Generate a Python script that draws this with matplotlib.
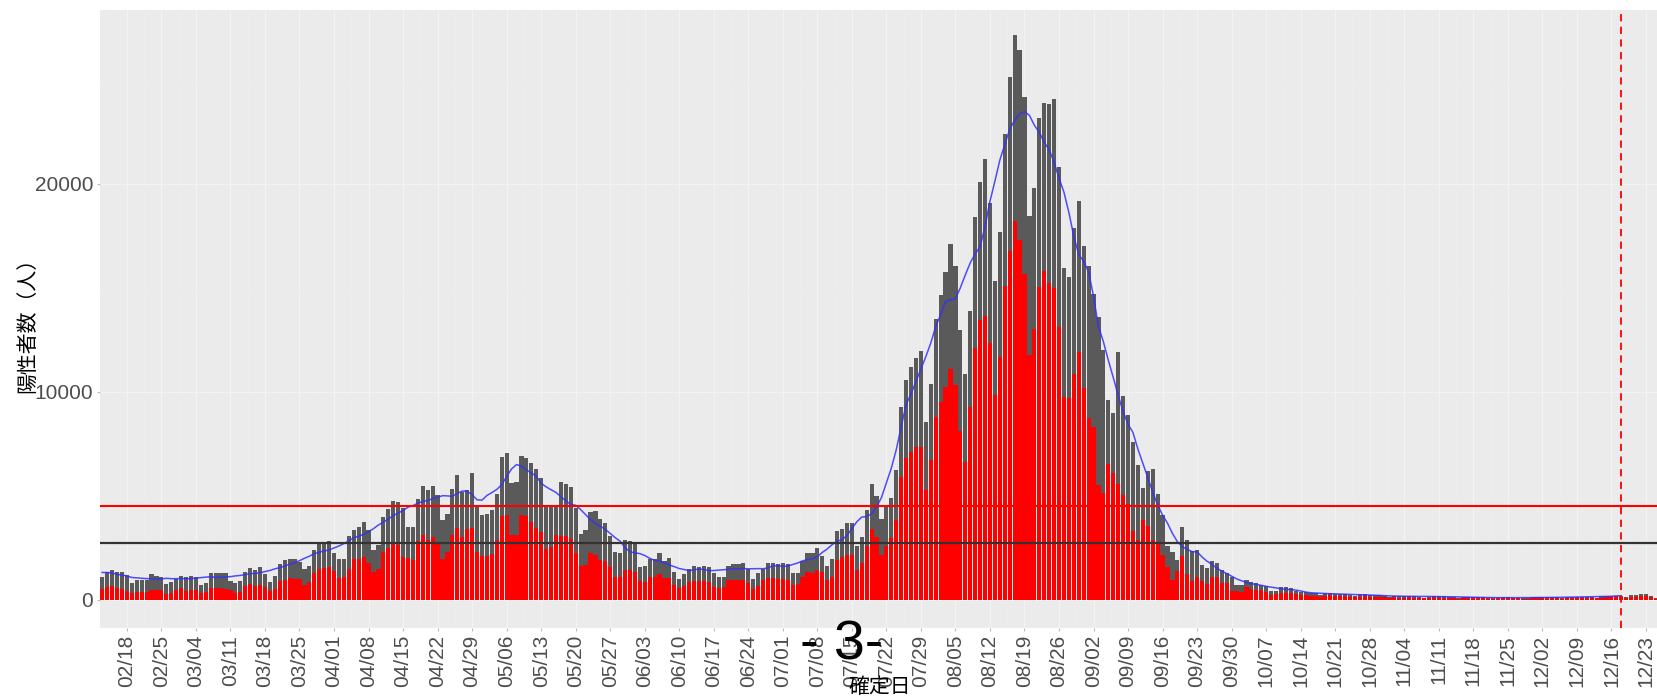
import numpy as np
import pandas as pd
import matplotlib
matplotlib.use('Agg')
import matplotlib.pyplot as plt

plt.rcParams['font.family'] = ['Liberation Sans', 'Noto Sans CJK JP', 'DejaVu Sans']

# 日別の陽性者数 (2021-02-13 ～ 2021-12-25)
start = '2021-02-13'
total = [
    1120, 1350, 1450, 1350, 1320, 1190, 800, 960, 960, 960,
    1240, 1170, 1080, 750, 850, 1010, 1160, 1120, 1170, 1120,
    710, 820, 1280, 1270, 1300, 1280, 920, 800, 900, 1350,
    1530, 1450, 1560, 1250, 870, 1140, 1730, 1910, 1990, 1960,
    1800, 1480, 1650, 2410, 2700, 2700, 2810, 2250, 1960, 1980,
    3080,
    3360, 3500, 3730, 3340, 2410, 2620, 3980, 4380, 4740, 4690,
    4400, 3520, 3490, 4870, 5490, 5270, 5460, 5030, 3820, 4130,
    5330, 6020, 5200, 5300, 6100, 4530, 4100, 4140, 4300, 5090,
    6870, 7070, 5600, 5670, 6920, 6840, 6570, 6310, 5850, 4560,
    4560, 4510, 5690, 5590, 5410, 4400, 3160, 3360, 4220, 4260,
    3890, 3710, 3080, 2310,
    2250, 2870, 2840, 2710, 1560, 1650, 1960, 1990, 2250, 1880,
    2010, 1320, 1010, 1240, 1480, 1610, 1560, 1610, 1590, 1300,
    1080, 1120, 1610, 1720, 1720, 1770, 1480, 1000, 1270, 1490,
    1770, 1750, 1720, 1770, 1720, 1280, 1280, 1880, 2250, 2240,
    2490, 2090, 1610, 1980,
    3310, 3420, 3680, 3680, 2580, 3000, 4330, 5590, 5000, 3880,
    4550, 4880, 6220, 9250, 10560, 11190, 11610, 11980, 8550, 10370,
    13500, 14650, 15780, 17110, 16050, 12960, 10850, 13890, 18380, 20090,
    21180, 19060, 15340, 17670, 22390, 25120, 27170, 26430, 24150, 18440,
    19780, 23150, 23900, 23820, 24060, 20800, 15960, 15510, 17850, 19150,
    17000, 16030, 14720,
    13600, 12000, 9600, 9000, 11900, 9800, 8900, 7600, 6500, 5400,
    6200, 6300, 5100, 4100,
    2600, 2300, 1900, 3500, 2860, 2330, 2410, 1690, 1530, 1850,
    1770, 1450, 1280, 1080, 720, 720, 960, 880, 800, 720,
    650, 450, 450, 610, 610, 560, 450, 400, 360, 320,
    310, 240, 330, 350, 300, 290, 270, 250, 200, 260, 270, 250, 240, 220,
    200, 130, 210, 180, 170, 190, 180, 160, 110, 160, 200, 180, 170, 160,
    150, 90, 140, 150, 140, 130, 120, 110, 70, 110, 120, 120, 110, 110,
    100, 70, 120, 130, 120, 130, 120, 120, 80, 130, 150, 160, 140, 150,
    140, 110, 170, 190, 200, 190, 200,
    160, 230, 250, 260, 270, 190, 80,
]
subset = [
    510, 610, 670, 550, 530, 450, 350, 400, 400, 370,
    500, 500, 480, 290, 350, 480, 550, 450, 480, 480,
    320, 390, 550, 580, 560, 510, 470, 350, 400, 670,
    770, 670, 710, 630, 430, 530, 920, 950, 1030, 1000,
    1000, 720, 840, 1290, 1490, 1510, 1570, 1380, 1030, 1110,
    1490,
    1980, 1960, 2060, 1780, 1350, 1480, 2300, 2510, 2680, 2630,
    2060, 2010, 1930, 2830, 3130, 2890, 3020, 2790, 1960, 2300,
    3100, 3450, 3020, 3400, 3440, 2280, 2090, 2090, 2200, 2890,
    4050, 4080, 3130, 3130, 4060, 4050, 3760, 3440, 3260, 2470,
    2520, 3100, 3080, 3050, 2940, 2260, 1640, 1670, 2250, 2150,
    1930, 1850, 1570, 1110,
    1080, 1450, 1430, 1350, 900, 880, 1090, 1090, 1240, 1030,
    1030, 700, 560, 670, 850, 920, 920, 900, 880, 610,
    560, 640, 950, 950, 950, 950, 800, 510, 690, 950,
    1030, 1030, 1010, 1010, 960, 700, 750, 1090, 1330, 1270,
    1430, 1350, 980, 1120,
    1910, 2040, 2150, 2150, 1460, 1770, 2580, 3400, 3000, 2180,
    2600, 2970, 3820, 5920, 6830, 7100, 7370, 7370, 5280, 6700,
    8770, 9500, 10230, 11100, 10320, 8120, 6640, 9280, 12100, 13470,
    13650, 12340, 9860, 11650, 15070, 16780, 18200, 17290, 15650, 11780,
    13010, 15050, 15820, 15230, 14980, 13100, 9740, 9680, 10850, 11900,
    10180, 8760, 8300,
    5510, 5140, 6550, 6100, 5590, 5030, 4630, 3290, 2890, 3820,
    3570, 2880, 2760, 2170,
    1600, 960, 1370, 2090, 1250, 915, 1080, 915, 755, 1120,
    1080, 835, 800, 450, 450, 400, 610, 510, 480, 480,
    400, 240, 290, 320, 350, 320, 270, 240, 220, 210,
    200, 150, 210, 220, 190, 180, 170, 160, 120, 160, 170, 160, 150, 140,
    130, 80, 130, 110, 110, 120, 110, 100, 70, 100, 130, 110, 110, 100,
    100, 60, 90, 100, 90, 80, 80, 70, 40, 70, 80, 80, 70, 70,
    60, 40, 80, 80, 80, 80, 80, 80, 50, 80, 100, 100, 90, 100,
    90, 70, 110, 120, 130, 120, 130,
    100, 150, 160, 170, 180, 120, 50,
]
red_level = 4530
black_level = 2720
cutoff = '2021-12-18'
first_tick = '2021-02-18'
ylabel = '陽性者数（人）'
xlabel = '確定日'
page = '- 3-'

dates = pd.date_range(start, periods=len(total), freq='D')
x = np.arange(len(total))
ma = pd.Series(total).rolling(7, center=True, min_periods=1).mean()
cut = int((pd.Timestamp(cutoff) - dates[0]).days)
t0 = int((pd.Timestamp(first_tick) - dates[0]).days)
ticks = np.arange(t0, len(total), 7)

W, H = 1658, 698
fig = plt.figure(figsize=(W / 100, H / 100), dpi=100)
ax = fig.add_axes([100 / W, 1 - 628 / H, (W - 100) / W, 618 / H])
ax.set_facecolor('#EBEBEB')
for s in ax.spines.values():
    s.set_visible(False)

ax.bar(x, total, width=0.85, color='#5A5A5A', zorder=2)
ax.bar(x, subset, width=0.85, color='#FF0000', zorder=3)
ax.plot(x[:cut + 1], ma[:cut + 1], color='#3030FF', lw=1.1, alpha=0.85, zorder=4)
ax.axhline(red_level, color='#FF0000', lw=1.5, zorder=5)
ax.axhline(black_level, color='#333333', lw=1.6, zorder=5)
ax.axvline(cut, color='#FF0000', lw=1.3, ls=(0, (4, 3)), zorder=5)

ax.set_xlim(-0.45, len(total) - 0.55)
ax.set_ylim(-1350, 28350)
ax.set_yticks([0, 10000, 20000])
ax.set_yticks([5000, 15000, 25000], minor=True)
ax.set_xticks(ticks)
ax.set_xticks(ticks - 3.5, minor=True)
ax.set_xticklabels([d.strftime('%m/%d') for d in dates[ticks]], rotation=90)
ax.grid(which='major', color='#F3F3F3', lw=0.8, zorder=0)
ax.grid(which='minor', color='#F0F0F0', lw=0.4, zorder=0)
ax.set_axisbelow(True)
ax.tick_params(which='major', length=2, color='#BBBBBB', labelsize=15,
               labelcolor='#4D4D4D', pad=3)
ax.tick_params(which='minor', length=0)

fig.text(27 / W, 1 - 320 / H, ylabel, rotation=90, ha='center', va='center',
         fontsize=15, family=['Noto Sans CJK JP', 'DejaVu Sans'])
fig.text(880 / W, 1 - 687 / H, xlabel, ha='center', va='center',
         fontsize=15, family=['Noto Sans CJK JP', 'DejaVu Sans'])
fig.text(842 / W, 1 - 645 / H, page, ha='center', va='center',
         fontsize=40, color='black', zorder=10)

fig.savefig('out.png', dpi=100)
